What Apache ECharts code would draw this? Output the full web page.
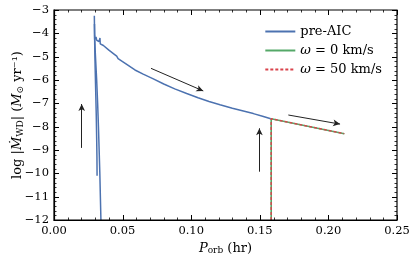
<!DOCTYPE html>
<html><head><meta charset="utf-8">
<script src="https://cdn.jsdelivr.net/npm/echarts@6/dist/echarts.min.js"></script>
<style>html,body{margin:0;padding:0;background:#fff}#c{width:415px;height:257px}</style>
</head><body><div id="c"></div>
<script>
// pre-AIC track: main branch (x = P_orb hr, y = log |Mdot|)
var preAicMain = [
  [0.0342,-12.0],[0.0338,-11.0],[0.0334,-10.0],[0.0329,-9.0],[0.0324,-8.0],[0.0318,-7.0],[0.0311,-6.0],[0.0304,-5.2],[0.0299,-4.6],[0.0296,-4.2],
  [0.0294,-3.25],[0.0296,-4.1],[0.0300,-4.25],[0.0306,-4.15],[0.0312,-4.3],[0.0320,-4.3],[0.0328,-4.35],[0.0333,-4.4],[0.0335,-4.2],[0.0337,-4.45],
  [0.0360,-4.52],[0.0400,-4.72],[0.0440,-4.9],[0.0457,-4.98],[0.0462,-4.9],[0.0467,-5.08],
  [0.0481,-5.14],[0.0530,-5.33],[0.0590,-5.57],[0.0650,-5.75],[0.0724,-5.95],[0.0800,-6.17],[0.0880,-6.38],
  [0.0967,-6.58],[0.1050,-6.76],[0.1130,-6.92],[0.1210,-7.06],[0.1300,-7.21],[0.1380,-7.33],[0.1453,-7.44],[0.1520,-7.55],[0.1580,-7.66]
];
// pre-AIC track: second descending strand near onset
var preAicStrand = [
  [0.0295,-3.6],[0.0297,-4.6],[0.0300,-5.5],[0.0304,-6.5],[0.0308,-7.5],[0.0311,-8.5],[0.0313,-9.3],[0.0314,-10.1]
];
// post-AIC tracks
var omega0 = [[0.1583,-12.0],[0.1583,-7.66],[0.2116,-8.30]];
var omega50 = [[0.1583,-12.0],[0.1583,-7.66],[0.2116,-8.30]];
// annotation arrows [from, to]
var arrows = [
  [[0.0202,-8.91],[0.0202,-7.03]],
  [[0.0707,-5.50],[0.1088,-6.47]],
  [[0.1497,-9.93],[0.1497,-8.07]],
  [[0.1708,-7.50],[0.2085,-7.89]]
];
// tick labels / axis ranges
var xTicks = [0,0.05,0.10,0.15,0.20,0.25];
var yTicks = [-12,-11,-10,-9,-8,-7,-6,-5,-4,-3];
var MINOR_SPLIT = 5;

var X_MIN = xTicks[0], X_MAX = xTicks[xTicks.length-1];
var Y_MIN = yTicks[0], Y_MAX = yTicks[yTicks.length-1];

// tick marks (kind: 0 x-major, 1 x-minor, 2 y-major, 3 y-minor, 4 frame)
var tickItems = [[X_MIN, Y_MIN, 4]];
function addTicks(ticks, isX){
  for (var i=0;i<ticks.length;i++){
    tickItems.push(isX ? [ticks[i], Y_MIN, 0] : [X_MIN, ticks[i], 2]);
    if (i < ticks.length-1){
      var step = (ticks[i+1]-ticks[i])/MINOR_SPLIT;
      for (var k=1;k<MINOR_SPLIT;k++){
        var v = ticks[i]+step*k;
        tickItems.push(isX ? [v, Y_MIN, 1] : [X_MIN, v, 3]);
      }
    }
  }
}
addTicks(xTicks, true);
addTicks(yTicks, false);

var FONT = 'DejaVu Serif';
var chart = echarts.init(document.getElementById('c'), null, {renderer:'canvas'});

var arrowLines = arrows.map(function(a){
  return [{coord:a[0],symbol:'none'},{coord:a[1],symbol:'arrow'}];
});

function crisp(v){ return Math.round(v) + 0.5; }
function renderTick(params, api){
  var kind = api.value(2);
  var st = {stroke:'#000', lineWidth:1};
  if (kind === 4){
    var p0 = api.coord([X_MIN, Y_MAX]);
    var p1 = api.coord([X_MAX, Y_MIN]);
    return {type:'rect', silent:true,
      shape:{x:Math.round(p0[0]), y:Math.round(p0[1]), width:Math.round(p1[0]-p0[0]), height:Math.round(p1[1]-p0[1])},
      style:{fill:null, stroke:'#000', lineWidth:1.2}};
  }
  var len = (kind === 0 || kind === 2) ? 5 : 2.5;
  if (kind === 1) st.lineWidth = 0.8;
  if (kind === 3) st.lineWidth = 0.8;
  var a, b;
  if (kind === 0 || kind === 1){
    a = api.coord([api.value(0), Y_MIN]);
    b = api.coord([api.value(0), Y_MAX]);
    var x = crisp(a[0]);
    return {type:'group', silent:true, children:[
      {type:'line', shape:{x1:x, y1:a[1], x2:x, y2:a[1]-len}, style:st},
      {type:'line', shape:{x1:x, y1:b[1], x2:x, y2:b[1]+len}, style:st}
    ]};
  } else {
    a = api.coord([X_MIN, api.value(1)]);
    b = api.coord([X_MAX, api.value(1)]);
    var y = crisp(a[1]);
    return {type:'group', silent:true, children:[
      {type:'line', shape:{x1:a[0], y1:y, x2:a[0]+len, y2:y}, style:st},
      {type:'line', shape:{x1:b[0], y1:y, x2:b[0]-len, y2:y}, style:st}
    ]};
  }
}

chart.setOption({
  animation:false,
  backgroundColor:'#fff',
  grid:{left:54,right:18,top:10,bottom:37,outerBoundsMode:'none'},
  legend:{
    right:28, top:20, orient:'vertical', itemGap:6, itemWidth:30, itemHeight:12,
    data:['pre-AIC','ω0','ω50'],
    itemStyle:{opacity:0},
    textStyle:{fontFamily:FONT,fontSize:13,color:'#000',
      rich:{i:{fontFamily:FONT,fontStyle:'italic',fontSize:13}}},
    formatter:function(n){
      if(n==='ω0') return '{i|ω} = 0 km/s';
      if(n==='ω50') return '{i|ω} = 50 km/s';
      return n;
    }
  },
  xAxis:{type:'value',min:X_MIN,max:X_MAX,interval:0.05,position:'bottom',
    axisLine:{show:true,lineStyle:{color:'#000',width:1.2}},
    axisTick:{show:false},
    splitLine:{show:false},
    name:'{i|P}{s|orb} (hr)',nameLocation:'middle',nameGap:18,
    nameTextStyle:{fontFamily:FONT,fontSize:13,color:'#000',
      rich:{i:{fontFamily:FONT,fontStyle:'italic',fontSize:13,color:'#000'},
            s:{fontFamily:FONT,fontSize:9,color:'#000',padding:[5,0,0,0]}}},
    axisLabel:{fontFamily:FONT,fontSize:11.5,color:'#000',margin:5,
      formatter:function(v){return v.toFixed(2);}}},
  yAxis:{type:'value',min:Y_MIN,max:Y_MAX,interval:1,position:'left',
    axisLine:{show:true,lineStyle:{color:'#000',width:1.2}},
    axisTick:{show:false},
    splitLine:{show:false},
    name:'log |{i|Ṁ}{s|WD}| ({i|M}{s|⊙} yr⁻¹)',nameLocation:'middle',nameGap:29,nameRotate:90,
    nameMoveOverlap:false,
    nameTextStyle:{fontFamily:FONT,fontSize:13,color:'#000',
      rich:{i:{fontFamily:FONT,fontStyle:'italic',fontSize:13,color:'#000'},
            s:{fontFamily:FONT,fontSize:9,color:'#000',padding:[5,0,0,0]}}},
    axisLabel:{fontFamily:FONT,fontSize:11.5,color:'#000',margin:5,
      formatter:function(v){return String(v).replace('-','\u2212');}}},
  series:[
    {name:'_ticks',type:'custom',data:tickItems,renderItem:renderTick,silent:true,z:10,clip:false,
      encode:{x:0,y:1}},
    {name:'pre-AIC',type:'line',data:preAicMain,showSymbol:false,symbol:'none',
      lineStyle:{color:'#4c72b0',width:1.5},itemStyle:{color:'#4c72b0'},z:2},
    {name:'_strand',type:'line',data:preAicStrand,showSymbol:false,symbol:'none',
      lineStyle:{color:'#4c72b0',width:1.5},itemStyle:{color:'#4c72b0'},z:2},
    {name:'ω0',type:'line',data:omega0,showSymbol:false,symbol:'none',
      lineStyle:{color:'#55a868',width:1.6},itemStyle:{color:'#55a868'},z:3},
    {name:'ω50',type:'line',data:omega50,showSymbol:false,symbol:'none',
      lineStyle:{color:'#d9434b',width:1.4,type:[3,2]},itemStyle:{color:'#d9434b'},z:4},
    {name:'_arrows',type:'line',data:[],silent:true,z:5,
      markLine:{silent:true,symbolSize:[5,7],animation:false,
        label:{show:false},
        lineStyle:{color:'#222',width:1,type:'solid'},
        emphasis:{disabled:true},
        data:arrowLines}}
  ]
});
</script></body></html>
